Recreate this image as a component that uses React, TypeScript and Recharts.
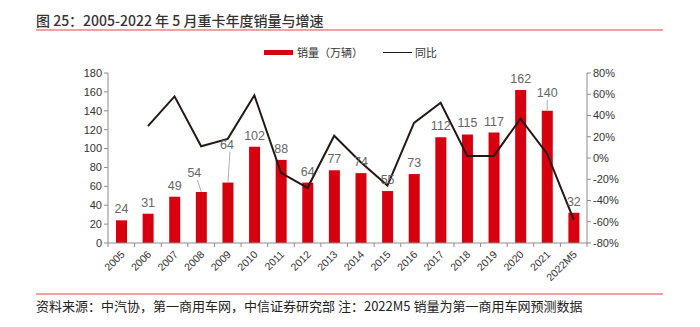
import React from "react";
import { ComposedChart, Bar, Line, XAxis, YAxis, LabelList } from "recharts";

const categories = ["2005","2006","2007","2008","2009","2010","2011","2012","2013","2014","2015","2016","2017","2018","2019","2020","2021","2022M5"];
const sales = [24,31,49,54,64,102,88,64,77,74,55,73,112,115,117,162,140,32];
const yoy: (number | null)[] = [null,0.30,0.58,0.11,0.18,0.59,-0.14,-0.28,0.21,-0.04,-0.26,0.33,0.52,0.02,0.02,0.37,0.04,-0.58];
const leftTicks = [0,20,40,60,80,100,120,140,160,180];
const rightTicks = [-0.8,-0.6,-0.4,-0.2,0,0.2,0.4,0.6,0.8];

const data = categories.map((c, i) => ({ cat: c, sales: sales[i], yoy: yoy[i] }));

const RED = "#d7000f";
const AXIS = "#8c8c8c";
const FONT = "'Liberation Sans', Arial, 'Noto Sans CJK SC', sans-serif";
const CJK = "'Noto Sans CJK SC', 'Liberation Sans', sans-serif";

const PLOT_LEFT = 108;
const PLOT_RIGHT = 587;
const BAND = (PLOT_RIGHT - PLOT_LEFT) / categories.length;

const labelAdjust: Record<string, { dx: number; dy: number }> = {
  "2008": { dx: -7, dy: -8 },
  "2009": { dx: -1, dy: -27 },
  "2021": { dx: 0, dy: -7 },
};

const XTick = (props: any) => {
  const { x, y, payload } = props;
  return (
    <g>
      <line x1={x - BAND / 2} x2={x - BAND / 2} y1={y - 8} y2={y - 4} stroke={AXIS} />
      {payload.index === categories.length - 1 && (
        <line x1={x + BAND / 2} x2={x + BAND / 2} y1={y - 8} y2={y - 4} stroke={AXIS} />
      )}
      <text
        x={x + 4}
        y={y + 4}
        textAnchor="end"
        transform={`rotate(-45 ${x + 4} ${y + 4})`}
        fontSize={10.5}
        fill="#333"
        fontFamily={FONT}
      >
        {payload.value}
      </text>
    </g>
  );
};

const BarLabel = (props: any) => {
  const { x, y, width, value, index } = props;
  const cat = categories[index];
  const adj = labelAdjust[cat] || { dx: 0, dy: 0 };
  const cx = x + width / 2;
  const ly = y - 7 + adj.dy;
  return (
    <g>
      {adj.dy !== 0 && (
        <line x1={cx + adj.dx + (adj.dx < 0 ? 3 : 0)} y1={ly + 3} x2={cx} y2={y} stroke="#b0b0b0" strokeWidth={1} />
      )}
      <text x={cx + adj.dx} y={ly} textAnchor="middle" fontSize={12.5} fill="#666" fontFamily={FONT}>
        {value}
      </text>
    </g>
  );
};

export default function App() {
  return (
    <div style={{ position: "fixed", left: 0, top: 0, width: 700, height: 327, background: "#fff", overflow: "hidden" }}>
      <div style={{ position: "absolute", left: 36, top: 10, fontSize: 14, color: "#333", fontFamily: CJK, fontWeight: 500, whiteSpace: "nowrap" }}>
        图 25：2005-2022 年 5 月重卡年度销量与增速
      </div>
      <div style={{ position: "absolute", left: 36, top: 29, width: 627, height: 2, background: "#eba3a3" }} />

      <div style={{ position: "absolute", left: 264, top: 50, width: 29, height: 5, background: RED }} />
      <div style={{ position: "absolute", left: 297, top: 44, fontSize: 11, color: "#333", fontFamily: CJK, whiteSpace: "nowrap" }}>
        销量（万辆）
      </div>
      <div style={{ position: "absolute", left: 383, top: 51.5, width: 29, height: 1.5, background: "#231815" }} />
      <div style={{ position: "absolute", left: 415, top: 44, fontSize: 11, color: "#333", fontFamily: CJK, whiteSpace: "nowrap" }}>
        同比
      </div>

      <div style={{ position: "absolute", left: 0, top: 0 }}>
        <ComposedChart
          width={700}
          height={327}
          data={data}
          margin={{ top: 73, right: 53, bottom: 34, left: 68 }}
          barCategoryGap={0}
        >
          <XAxis
            dataKey="cat"
            interval={0}
            height={50}
            stroke={AXIS}
            tickLine={false}
            tick={<XTick />}
          />
          <YAxis
            yAxisId="left"
            width={40}
            domain={[0, 180]}
            ticks={leftTicks}
            interval={0}
            stroke={AXIS}
            tickSize={4}
            tick={{ fontSize: 11, fill: "#333", fontFamily: FONT }}
          />
          <YAxis
            yAxisId="right"
            orientation="right"
            width={60}
            domain={[-0.8, 0.8]}
            ticks={rightTicks}
            interval={0}
            stroke={AXIS}
            tickSize={4}
            tickFormatter={(v: number) => `${Math.round(v * 100)}%`}
            tick={{ fontSize: 11, fill: "#333", fontFamily: FONT }}
          />
          <Bar yAxisId="left" dataKey="sales" fill={RED} barSize={11} isAnimationActive={false}>
            <LabelList dataKey="sales" content={<BarLabel />} />
          </Bar>
          <Line
            yAxisId="right"
            dataKey="yoy"
            stroke="#231815"
            strokeWidth={2}
            dot={false}
            connectNulls={false}
            isAnimationActive={false}
          />
        </ComposedChart>
      </div>

      <div style={{ position: "absolute", left: 36, top: 293, width: 627, height: 1.5, background: "#eba3a3" }} />
      <div style={{ position: "absolute", left: 36, top: 296, fontSize: 13, color: "#222", fontFamily: CJK, whiteSpace: "nowrap" }}>
        资料来源：中汽协，第一商用车网，中信证券研究部 注：2022M5 销量为第一商用车网预测数据
      </div>
    </div>
  );
}
